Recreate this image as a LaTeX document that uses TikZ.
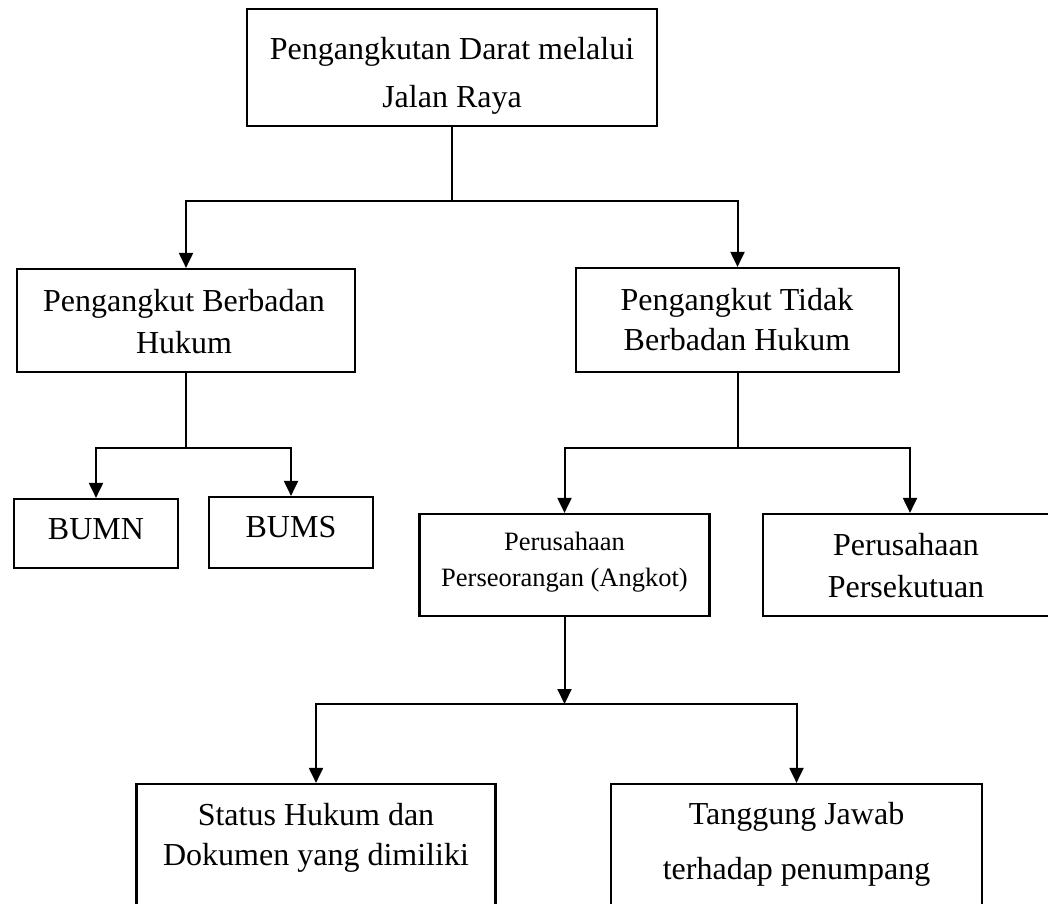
\documentclass[tikz,border=0pt]{standalone}
\usepackage{fontspec}
\setmainfont{Liberation Serif}
\usetikzlibrary{arrows.meta}
\tikzset{
  box/.style={draw, line width=2.2pt, inner sep=0pt},
  txt/.style={inner sep=0pt, anchor=base, font=\fontsize{32}{38}\selectfont},
  smalltxt/.style={inner sep=0pt, anchor=base, font=\fontsize{26.5}{32}\selectfont},
  conn/.style={line width=2pt},
  arr/.style={line width=2pt, -{Triangle[length=15pt,width=14pt]}}
}
\begin{document}
\begin{tikzpicture}[x=1pt,y=-1pt]
\path[fill=white] (0,0) rectangle (1048,903);
\useasboundingbox (0,0) rectangle (1048,903);

% boxes
\node[box, minimum width=410pt, minimum height=117pt] (top) at (452,67.5) {};
\node[box, minimum width=338pt, minimum height=103pt] (hk) at (186,320.5) {};
\node[box, minimum width=323pt, minimum height=104pt] (thk) at (737.5,320) {};
\node[box, minimum width=164pt, minimum height=69pt] (bumn) at (96,533.5) {};
\node[box, minimum width=164pt, minimum height=71pt] (bums) at (291,532.5) {};
\node[box, minimum width=290pt, minimum height=102pt] (po) at (564.5,565) {};
\node[box, minimum width=294pt, minimum height=102pt] (ps) at (910,565) {};
\node[box, minimum width=359pt, minimum height=160pt] (st) at (316,864) {};
\node[box, minimum width=371pt, minimum height=160pt] (tj) at (796.5,864) {};

% texts
\node[txt] (topA) at (452,59) {Pengangkutan Darat melalui};
\node[txt] (topB) at (452,107) {Jalan Raya};
\node[txt] (hkA) at (184,311) {Pengangkut Berbadan};
\node[txt] (hkB) at (184,353) {Hukum};
\node[txt] (thkA) at (737,310) {Pengangkut Tidak};
\node[txt] (thkB) at (737,350) {Berbadan Hukum};
\node[txt] (bumnA) at (96,539) {BUMN};
\node[txt] (bumsA) at (291,537) {BUMS};
\node[smalltxt] (poA) at (564.5,550) {Perusahaan};
\node[smalltxt] (poB) at (564.5,586) {Perseorangan (Angkot)};
\node[txt] (psA) at (906,555) {Perusahaan};
\node[txt] (psB) at (906,597) {Persekutuan};
\node[txt] (stA) at (316,825) {Status Hukum dan};
\node[txt] (stB) at (316,865) {Dokumen yang dimiliki};
\node[txt] (tjA) at (796.5,824) {Tanggung Jawab};
\node[txt] (tjB) at (796.5,879) {terhadap penumpang};

% junctions
\coordinate (j1) at (452,201);
\coordinate (j2) at (186,448);
\coordinate (j3) at (737.5,448);
\coordinate (j4) at (564.5,704);

% connectors
\draw[conn] (top.south) -- (j1);
\draw[arr] (j1) -| (hk.north);
\draw[arr] (j1) -| (thk.north);
\draw[conn] (hk.south) -- (j2);
\draw[arr] (j2) -| (bumn.north);
\draw[arr] (j2) -| (bums.north);
\draw[conn] (thk.south) -- (j3);
\draw[arr] (j3) -| (po.north);
\draw[arr] (j3) -| (ps.north);
\draw[arr] (po.south) -- (j4);
\draw[arr] (j4) -| (st.north);
\draw[arr] (j4) -| (tj.north);
\end{tikzpicture}
\end{document}
